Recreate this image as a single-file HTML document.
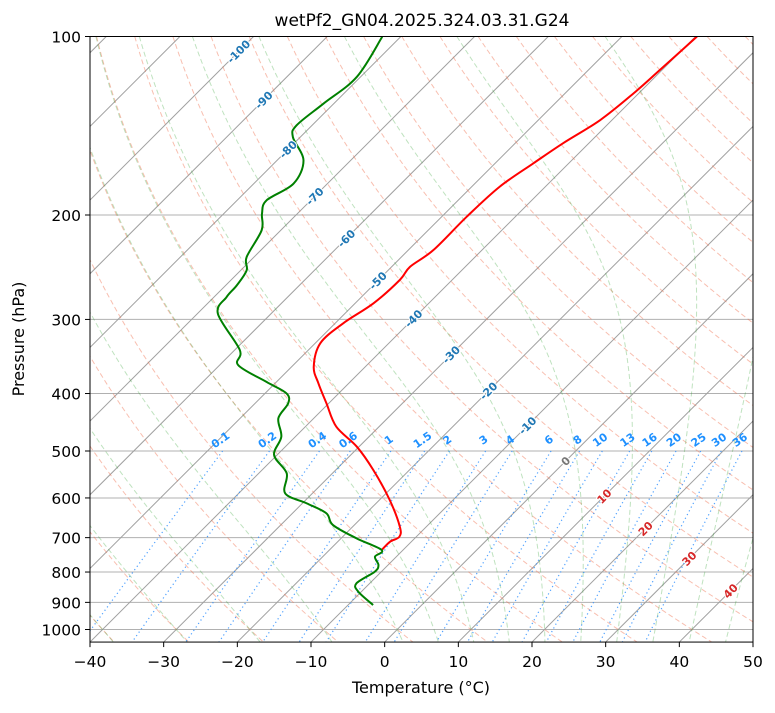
<!DOCTYPE html>
<html><head><meta charset="utf-8"><style>
html,body{margin:0;padding:0;background:#fff;}
svg text{font-family:"DejaVu Sans","Liberation Sans",sans-serif;}
</style></head><body>
<svg id="chart" width="775" height="708" xmlns="http://www.w3.org/2000/svg">
<defs><clipPath id="clip"><rect x="90" y="36.5" width="663" height="605.6"/></clipPath></defs>
<rect x="0" y="0" width="775" height="708" fill="#fff"/>
<text x="422" y="26" text-anchor="middle" font-size="17">wetPf2_GN04.2025.324.03.31.G24</text>
<g id="plot" clip-path="url(#clip)"></g>
<g id="axes"></g>
<text x="421" y="693" text-anchor="middle" font-size="16">Temperature (°C)</text>
<text transform="translate(24,339) rotate(-90)" text-anchor="middle" font-size="16">Pressure (hPa)</text>
</svg>
<script>
const tempP=[100,113.9,124.7,138.3,151.4,163.6,179.2,201.3,229.1,244.5,257.4,281.8,304.5,329.1,360.5,384.6,415.6,455,491.7,538.3,604.8,670.9,697.6,711.3,734.5];
const tempT=[-39.8,-40.3,-40.7,-41.6,-43.5,-44.8,-46.2,-46.6,-46.6,-47.5,-47.1,-47.5,-48.9,-49.3,-47.0,-44.1,-40.3,-35.8,-30.3,-24.9,-18.6,-13.6,-12.3,-12.9,-12.9];
const dewP=[100.1,117,129.8,141.2,147.8,161.8,177.1,188.9,199,212.2,235.5,247.9,262.8,275,293.5,337.9,358.1,382.2,399.7,415.6,440.5,473.1,507.9,545.3,589.3,612.7,636.8,666.6,701.9,734.5,753.9,778.5,799,836.1,863.7,909.3];
const dewT=[-82.5,-80.5,-81.4,-82.1,-81.0,-76.4,-74.6,-76.0,-74.8,-72.6,-71.0,-69.2,-68.5,-68.3,-67.2,-59.3,-57.5,-51.4,-47.1,-45.5,-44.8,-41.9,-40.4,-36.2,-33.7,-29.4,-25.4,-22.9,-17.9,-12.9,-12.9,-11.3,-10.9,-11.8,-10.4,-6.6];
const xTicks=[-40,-30,-20,-10,0,10,20,30,40,50];
const yTicks=[100,200,300,400,500,600,700,800,900,1000];
const mixW=[0.1,0.2,0.4,0.6,1,1.5,2,3,4,6,8,10,13,16,20,25,30,36];
const isoLabelT=[-100,-90,-80,-70,-60,-50,-40,-30,-20,-10,0,10,20,30,40];
const isoLabelP=[106,128,155,186,219,258,299,344,396,453,520,596,676,759,861];

const L=90,R=753,T0=36.5,DEC=593,B=36.5+593*Math.log10(10.5),PX=(R-L)/90;
function yP(p){return T0+DEC*Math.log10(p/100);}
function xT(t,p){return L+(t+40)*PX+(B-yP(p));}
const NS='http://www.w3.org/2000/svg';
function mk(tag,attrs,parent){const e=document.createElementNS(NS,tag);for(const k in attrs)e.setAttribute(k,attrs[k]);parent.appendChild(e);return e;}
const plot=document.getElementById('plot'),axes=document.getElementById('axes');
function pathFrom(ps,ts){let d='';for(let i=0;i<ps.length;i++){d+=(i?'L':'M')+xT(ts[i],ps[i]).toFixed(2)+','+yP(ps[i]).toFixed(2);}return d;}
function smoothFrom(ps,ts){const pts=ps.map((p,i)=>[xT(ts[i],p),yP(p)]);let d='M'+pts[0][0].toFixed(2)+','+pts[0][1].toFixed(2);
for(let i=0;i<pts.length-1;i++){const p0=pts[Math.max(0,i-1)],p1=pts[i],p2=pts[i+1],p3=pts[Math.min(pts.length-1,i+2)];
const c1=[p1[0]+(p2[0]-p0[0])/6,p1[1]+(p2[1]-p0[1])/6],c2=[p2[0]-(p3[0]-p1[0])/6,p2[1]-(p3[1]-p1[1])/6];
d+='C'+c1[0].toFixed(2)+','+c1[1].toFixed(2)+' '+c2[0].toFixed(2)+','+c2[1].toFixed(2)+' '+p2[0].toFixed(2)+','+p2[1].toFixed(2);}return d;}
const pres=[];for(let p=100;p<=1050;p+=5)pres.push(p);

yTicks.forEach(p=>{const l=mk('line',{x1:L,x2:R,y1:yP(p),y2:yP(p),stroke:'#b0b0b0','stroke-width':1},plot);

});
for(let t=-160;t<=50;t+=10){const l=mk('line',{x1:xT(t,1050),y1:yP(1050),x2:xT(t,100),y2:yP(100),stroke:'#a0a0a0','stroke-width':1},plot);

}
for(let th=-40;th<=250;th+=10){const ts=pres.map(p=>(th+273.15)*Math.pow(p/1000,0.2857)-273.15);
const e=mk('path',{d:pathFrom(pres,ts),fill:'none',stroke:'#f07050','stroke-opacity':0.45,'stroke-width':1,'stroke-dasharray':'5,3'},plot);

}
function lapse(p,t){const Rd=287.04,Cp=1005.7,Lv=2.501e6,eps=0.622;const tc=t-273.15;const es=6.112*Math.exp(17.67*tc/(tc+243.5));const rs=eps*es/(p-es);
return (Rd*t+Lv*rs)/(Cp+Lv*Lv*rs*eps/(Rd*t*t))/p;}
function integ(t,p0,p1,n){const h=(p1-p0)/n;const out=[[p0,t]];let p=p0;for(let i=0;i<n;i++){const k1=lapse(p,t),k2=lapse(p+h/2,t+h*k1/2),k3=lapse(p+h/2,t+h*k2/2),k4=lapse(p+h,t+h*k3);t+=h*(k1+2*k2+2*k3+k4)/6;p+=h;out.push([p,t]);}return out;}
const moistT=[-40,-30,-20,-10,0,5,10,15,20,25,30,35,40,45,50];
moistT.forEach(t0=>{const up=integ(t0+273.15,1000,100,180).reverse();const dn=integ(t0+273.15,1000,1050,10).slice(1);const all=up.concat(dn);
const e=mk('path',{d:pathFrom(all.map(a=>a[0]),all.map(a=>a[1]-273.15)),fill:'none',stroke:'#2ca02c','stroke-opacity':0.3,'stroke-width':1,'stroke-dasharray':'5,3'},plot);

});
function tdW(w,p){const e=(w/1000)*p/(0.622+w/1000);const a=Math.log(e/6.112);return 243.5*a/(17.67-a);}
const mp=[];for(let p=500;p<=1050;p+=10)mp.push(p);
const labG=mk('g',{},document.getElementById('chart'));
mixW.forEach(w=>{const e=mk('path',{d:pathFrom(mp,mp.map(p=>tdW(w,p))),fill:'none',stroke:'#3090ff','stroke-opacity':0.85,'stroke-width':1.2,'stroke-dasharray':'1.2,3'},plot);


const x=xT(tdW(w,500),500),y=yP(500)-8;
if(x<R){const t=mk('text',{x:x,y:y,'text-anchor':'middle','font-size':11,'font-weight':'bold',fill:'#1e90ff',transform:'rotate(-35 '+x+' '+y+')'},labG);t.textContent=String(w);

}});
isoLabelT.forEach((t,i)=>{const p=isoLabelP[i];const x=xT(t,p),y=yP(p)+4;
const c=t<0?'#1f77b4':(t===0?'#777':'#d62728');
const e=mk('text',{x:x,y:y,'text-anchor':'middle','font-size':11,'font-weight':'bold',fill:c,stroke:'#fff','stroke-width':2,'paint-order':'stroke',transform:'rotate(-45 '+x+' '+yP(p)+')'},labG);e.textContent=String(t);

});
const tp=mk('path',{d:smoothFrom(tempP,tempT),fill:'none',stroke:'#ff0000','stroke-width':2,'stroke-linejoin':'round'},plot);


const dp=mk('path',{d:smoothFrom(dewP,dewT),fill:'none',stroke:'#008000','stroke-width':2,'stroke-linejoin':'round'},plot);


const fr=mk('rect',{x:L,y:T0,width:R-L,height:B-T0,fill:'none',stroke:'#000','stroke-width':1},axes);


xTicks.forEach(t=>{const x=L+(t+40)*PX;mk('line',{x1:x,x2:x,y1:B,y2:B+5,stroke:'#000'},axes);
const e=mk('text',{x:x,y:B+25,'text-anchor':'middle','font-size':15.5},axes);e.textContent=(t<0?'\u2212'+(-t):String(t));

});
yTicks.forEach(p=>{const y=yP(p);mk('line',{x1:L-5,x2:L,y1:y,y2:y,stroke:'#000'},axes);
const e=mk('text',{x:L-9,y:y+6,'text-anchor':'end','font-size':15.5},axes);e.textContent=String(p);

});
</script>
</body></html>
